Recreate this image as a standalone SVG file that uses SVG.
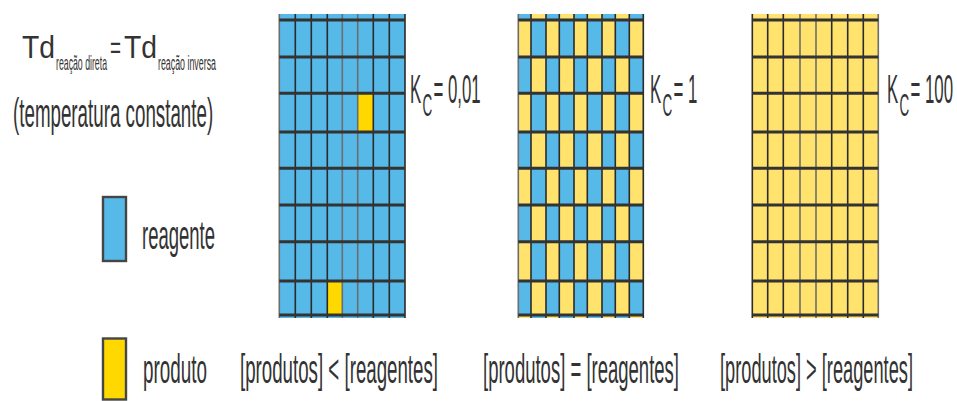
<svg xmlns="http://www.w3.org/2000/svg" xmlns:xlink="http://www.w3.org/1999/xlink" width="957" height="401" viewBox="0 0 957 401">
<style>
.t{font-family:"Liberation Sans",Arial,sans-serif;fill:#333;}
.b{fill:#56B9E8;}
.y{fill:#FFD800;}
.p{fill:#FFE36C;}
.v{stroke:#2b2b2b;stroke-width:1.6;fill:none;}
.vg{stroke:#6d6d6d;stroke-width:1.6;fill:none;}
.h{stroke:#333;stroke-width:3;fill:none;}
</style>
<defs>
<g id="rowA">
<rect class="p" x="518.3" y="0" width="12.7" height="1"/>
<rect class="p" x="546" y="0" width="13.3" height="1"/>
<rect class="p" x="574" y="0" width="13.3" height="1"/>
<rect class="p" x="602" y="0" width="13.3" height="1"/>
<rect class="p" x="629.3" y="0" width="14" height="1"/>
</g>
<g id="rowB">
<rect class="p" x="531" y="0" width="15" height="1"/>
<rect class="p" x="559.3" y="0" width="14.7" height="1"/>
<rect class="p" x="587.3" y="0" width="14.7" height="1"/>
<rect class="p" x="615.3" y="0" width="14" height="1"/>
</g>
</defs>

<g id="legend-text">
<text class="t" transform="matrix(0.91 0 0 1 22 58.3)" font-size="31" textLength="36.3" lengthAdjust="spacingAndGlyphs">Td</text>
<text class="t" transform="matrix(0.437 0 0 1 56 69.5)" font-size="20" textLength="116.7" lengthAdjust="spacingAndGlyphs">reação direta</text>
<text class="t" transform="matrix(0.61 0 0 1 110 58.3)" font-size="31" textLength="18" lengthAdjust="spacingAndGlyphs">=</text>
<text class="t" transform="matrix(0.91 0 0 1 124 58.3)" font-size="31" textLength="36.3" lengthAdjust="spacingAndGlyphs">Td</text>
<text class="t" transform="matrix(0.442 0 0 1 158 69.5)" font-size="20" textLength="131.2" lengthAdjust="spacingAndGlyphs">reação inversa</text>
<text class="t" transform="matrix(0.469 0 0 1 13 127)" font-size="40" textLength="426.8" lengthAdjust="spacingAndGlyphs">(temperatura constante)</text>
</g>

<g id="legend-reagente">
<rect x="103" y="197" width="23" height="64" fill="#56B9E8" stroke="#454545" stroke-width="2.4"/>
<text class="t" transform="matrix(0.462 0 0 1 142 249)" font-size="40" textLength="158" lengthAdjust="spacingAndGlyphs">reagente</text>
</g>
<g id="legend-produto">
<rect x="103" y="338.5" width="23" height="61" fill="#FFD800" stroke="#454545" stroke-width="2.4"/>
<text class="t" transform="matrix(0.472 0 0 1 143 383)" font-size="40" textLength="135.6" lengthAdjust="spacingAndGlyphs">produto</text>
</g>

<g id="grid-kc-001">
<rect class="b" x="279.3" y="14" width="125.7" height="304"/>
<rect class="y" x="357.7" y="93.3" width="15.6" height="38.7"/>
<rect class="y" x="327.3" y="281" width="15" height="34"/>
<path class="vg" d="M279.3 14V318M342.3 14V318M357.7 14V318"/>
<path class="v" d="M295.3 14V318M311.3 14V318M327.3 14V318M373.3 14V318M389.3 14V318M405 14V318"/>
<path class="h" d="M279.3 20H405M279.3 57H405M279.3 93.3H405M279.3 132H405M279.3 168.3H405M279.3 205H405M279.3 241.7H405M279.3 281H405M279.3 315H405"/>
<text class="t" transform="matrix(0.42 0 0 1 410 103)" font-size="40">K<tspan x="29.8" dy="13" font-size="32">C</tspan><tspan x="56" dy="-13">=</tspan><tspan x="90.5">0,01</tspan></text>
</g>

<g id="grid-kc-1">
<rect class="b" x="518.3" y="14" width="125" height="304"/>
<use xlink:href="#rowB" transform="translate(0,14) scale(1,6)"/>
<use xlink:href="#rowA" transform="translate(0,20) scale(1,37)"/>
<use xlink:href="#rowB" transform="translate(0,57) scale(1,36.3)"/>
<use xlink:href="#rowA" transform="translate(0,93.3) scale(1,38.7)"/>
<use xlink:href="#rowB" transform="translate(0,132) scale(1,36.3)"/>
<use xlink:href="#rowA" transform="translate(0,168.3) scale(1,36.7)"/>
<use xlink:href="#rowB" transform="translate(0,205) scale(1,36.7)"/>
<use xlink:href="#rowA" transform="translate(0,241.7) scale(1,39.3)"/>
<use xlink:href="#rowB" transform="translate(0,281) scale(1,34)"/>
<use xlink:href="#rowA" transform="translate(0,315) scale(1,3)"/>
<path class="vg" d="M518.3 14V318"/>
<path class="v" d="M531 14V318M546 14V318M559.3 14V318M574 14V318M587.3 14V318M602 14V318M615.3 14V318M629.3 14V318M643.3 14V318"/>
<path class="h" d="M518.3 20H643.3M518.3 57H643.3M518.3 93.3H643.3M518.3 132H643.3M518.3 168.3H643.3M518.3 205H643.3M518.3 241.7H643.3M518.3 281H643.3M518.3 315H643.3"/>
<text class="t" transform="matrix(0.42 0 0 1 650 103)" font-size="40">K<tspan x="29.8" dy="13" font-size="32">C</tspan><tspan x="56" dy="-13">=</tspan><tspan x="90.5">1</tspan></text>
</g>

<g id="grid-kc-100">
<rect class="p" x="752.3" y="14" width="126" height="304"/>
<path class="v" d="M752.3 14V318M767.7 14V318M783.3 14V318M831.7 14V318M847.7 14V318M863.3 14V318"/>
<path class="vg" d="M800 14V318M816 14V318M878.3 14V318"/>
<path class="h" d="M752.3 20H878.3M752.3 57H878.3M752.3 93.3H878.3M752.3 132H878.3M752.3 168.3H878.3M752.3 205H878.3M752.3 241.7H878.3M752.3 281H878.3M752.3 315H878.3"/>
<text class="t" transform="matrix(0.42 0 0 1 887 103)" font-size="40">K<tspan x="29.8" dy="13" font-size="32">C</tspan><tspan x="56" dy="-13">=</tspan><tspan x="90.5">100</tspan></text>
</g>

<g id="captions">
<text class="t" transform="matrix(0.467 0 0 1 240 383)" font-size="40" textLength="424" lengthAdjust="spacingAndGlyphs">[produtos] &lt; [reagentes]</text>
<text class="t" transform="matrix(0.463 0 0 1 483 383)" font-size="40" textLength="423.3" lengthAdjust="spacingAndGlyphs">[produtos] = [reagentes]</text>
<text class="t" transform="matrix(0.456 0 0 1 720 383)" font-size="40" textLength="423.2" lengthAdjust="spacingAndGlyphs">[produtos] &gt; [reagentes]</text>
</g>
</svg>
